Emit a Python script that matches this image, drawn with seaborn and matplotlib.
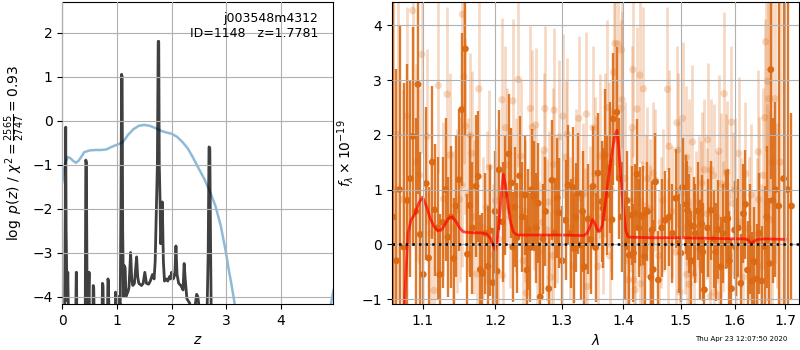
import numpy as np
import matplotlib
matplotlib.use("Agg")
import matplotlib.pyplot as plt
from matplotlib.ticker import FixedLocator, NullLocator, FixedFormatter
import seaborn as sns

# ---- p(z) panel ----
pz_z = [0.0, 0.04, 0.055, 0.062, 0.07, 0.08, 0.09, 0.10, 0.12, 0.24, 0.255, 0.26, 0.265, 0.28,
        0.40, 0.42, 0.43, 0.44, 0.455, 0.47, 0.48, 0.49, 0.50, 0.555, 0.565, 0.575, 0.59,
        0.72, 0.735, 0.745, 0.76, 0.82, 0.835, 0.845, 0.86, 0.96, 0.975, 0.985, 1.0, 1.02,
        1.06, 1.075, 1.085, 1.095, 1.105, 1.12, 1.135, 1.15, 1.165, 1.18, 1.20, 1.22, 1.25,
        1.27, 1.29, 1.32, 1.36, 1.38, 1.40, 1.45, 1.48, 1.51, 1.54, 1.58, 1.61, 1.65, 1.68,
        1.70, 1.74, 1.755, 1.765, 1.775, 1.79, 1.80, 1.81, 1.83, 1.85, 1.87, 1.90, 1.93,
        1.96, 1.98, 2.00, 2.03, 2.06, 2.08, 2.10, 2.13, 2.17, 2.21, 2.23, 2.25, 2.28, 2.33,
        2.37, 2.42, 2.46, 2.48, 2.51, 2.55, 2.64, 2.67, 2.685, 2.70, 2.715, 2.73, 2.76, 3.0, 5.0]
pz_logp = [-5.0, -5.0, -2.0, -0.15, -2.5, -3.45, -4.1, -3.45, -5.0, -5.0, -3.45, -3.45, -4.5, -5.0,
           -5.0, -4.2, -0.9, -0.95, -4.3, -3.45, -4.0, -3.45, -5.0, -5.0, -3.75, -3.8, -5.0,
           -5.0, -3.7, -3.75, -5.0, -5.0, -3.6, -3.65, -5.0, -5.0, -3.9, -3.95, -4.2, -4.0,
           -4.2, -1.5, 1.05, 1.0, -2.5, -4.0, -3.3, -3.35, -4.0, -3.95, -3.9, -3.8, -3.0,
           -3.6, -3.75, -3.7, -3.1, -3.55, -3.7, -3.75, -3.7, -3.45, -3.7, -3.72, -3.65, -3.5, -3.6,
           -3.2, -1.0, 1.8, 1.8, -1.0, -1.9, -2.8, -2.7, -1.85, -3.2, -3.65, -3.6, -3.65,
           -3.55, -3.6, -3.45, -3.6, -3.5, -2.85, -3.5, -3.7, -3.75, -3.85, -3.25, -3.6, -4.05, -4.15,
           -4.4, -4.3, -3.95, -4.0, -4.3, -5.0, -5.0, -3.0, -0.6, -0.62, -3.0, -5.0, -5.0, -5.0, -5.0]

chi_z = [0.0, 0.05, 0.1, 0.15, 0.2, 0.25, 0.3, 0.35, 0.4, 0.45, 0.5, 0.6, 0.7, 0.8, 0.9, 1.0,
         1.1, 1.15, 1.2, 1.3, 1.4, 1.5, 1.6, 1.7, 1.8, 1.9, 2.0, 2.1, 2.2, 2.3, 2.4, 2.5, 2.6,
         2.7, 2.8, 2.9, 3.0, 3.05, 3.1, 3.15, 3.2, 3.3, 3.6, 4.0, 4.4, 4.6, 4.8, 4.9, 4.96]
chi_val = [-1.40, -0.98, -0.83, -0.86, -0.92, -0.96, -0.91, -0.82, -0.72, -0.70, -0.68, -0.67,
           -0.67, -0.66, -0.60, -0.55, -0.50, -0.42, -0.33, -0.20, -0.12, -0.10, -0.12, -0.17,
           -0.23, -0.27, -0.30, -0.37, -0.49, -0.64, -0.86, -1.10, -1.33, -1.61, -1.93, -2.39,
           -3.03, -3.41, -3.75, -4.13, -4.5, -5.3, -6.0, -6.2, -6.0, -5.5, -4.8, -4.3, -3.86]

# ---- spectrum panel ----
dark_lam = [1.062, 1.066, 1.070, 1.0755, 1.080, 1.084, 1.087, 1.091, 1.094, 1.097, 1.101, 1.105,
            1.108, 1.113, 1.116, 1.120, 1.123, 1.127, 1.131, 1.134, 1.138, 1.142, 1.145, 1.149,
            1.153, 1.158, 1.161, 1.164, 1.168, 1.173, 1.176, 1.179, 1.182, 1.186, 1.190, 1.193,
            1.197, 1.200, 1.203, 1.206, 1.211, 1.215, 1.220, 1.224, 1.226, 1.229, 1.232, 1.236,
            1.240, 1.244, 1.247, 1.249, 1.252, 1.254, 1.258, 1.261, 1.264, 1.267, 1.271, 1.275,
            1.280, 1.285, 1.289, 1.293, 1.296, 1.301, 1.306, 1.310, 1.314, 1.318, 1.320, 1.322,
            1.325, 1.330, 1.333, 1.336, 1.342, 1.346, 1.350, 1.354, 1.358, 1.364, 1.366, 1.369,
            1.372, 1.377, 1.381, 1.383, 1.389, 1.393, 1.397, 1.402, 1.406, 1.410, 1.414, 1.417,
            1.420, 1.423, 1.426, 1.429, 1.433, 1.436, 1.441, 1.447, 1.449, 1.451, 1.455, 1.460,
            1.466, 1.472, 1.479, 1.485, 1.491, 1.496, 1.500, 1.503, 1.510, 1.512, 1.515, 1.519,
            1.523, 1.526, 1.531, 1.535, 1.538, 1.540, 1.543, 1.549, 1.555, 1.560, 1.564, 1.568,
            1.574, 1.578, 1.583, 1.587, 1.590, 1.594, 1.600, 1.602, 1.607, 1.612, 1.617, 1.621,
            1.625, 1.630, 1.634, 1.638, 1.643, 1.648, 1.653, 1.659, 1.663, 1.668, 1.671, 1.675,
            1.680, 1.687, 1.697, 1.705, 1.713]
dark_flux = [0.5, -0.3, 1.0, -0.05, 0.8, 1.2, 1.97, 0.6, 2.92, 0.18, -0.55, 1.11,
             -0.25, 1.5, 0.63, 0.3, -0.55, 0.4, 1.0, 0.13, 0.5, -0.26, 0.7, 1.18,
             2.46, 3.57, -0.18, 0.71, 0.3, 1.06, 1.24, -0.46, -0.53, 0.2, -0.4, 0.25,
             -0.7, 0.6, -0.49, 1.36, 0.41, 0.9, 1.65, 1.12, -0.05, 0.68, 0.12, 1.25,
             0.5, 0.9, -0.47, 0.27, -0.06, 1.0, 0.88, 0.3, 0.75, -0.96, 0.1, 0.6,
             -0.81, 1.17, 0.21, 0.85, 0.57, -0.3, 0.44, 1.08, 0.2, 1.04, -0.08, 0.49,
             0.93, -0.01, 0.6, -0.41, 0.46, 0.09, 1.06, -0.06, 1.3, 0.78, 0.66, 1.63,
             0.9, 1.4, 0.45, 2.29, 2.41, 1.2, 0.5, 0.0, 0.8, -0.2, 0.53, -0.16,
             0.56, 1.28, 0.3, 0.51, 0.53, -0.22, 0.6, -0.6, 0.26, -0.46, 1.14, -0.65,
             0.3, 0.44, 0.5, 0.2, 0.84, 0.02, -0.16, 1.04, 0.73, 0.62, 0.38, -0.3,
             0.33, 0.2, 0.61, -0.09, 0.37, -0.14, -0.83, 0.3, 0.62, 0.1, -0.14, 0.27,
             -0.41, 0.2, 0.45, 0.47, -0.3, -0.81, 0.26, -0.05, 0.3, -0.71, 0.56, 0.73,
             -0.47, 0.1, -0.67, -0.32, -0.63, 0.2, -0.67, -0.04, 0.5, -0.35, 3.19, 0.8,
             1.0, 0.7, 1.2, 1.0, 0.7]
dark_err = [4.0, 3.5, 3.0, 3.0, 2.5, 1.8, 2.0, 1.7, 2.0, 1.5, 1.4, 1.4,
            1.3, 1.4, 1.2, 1.3, 1.1, 1.2, 1.3, 1.1, 1.3, 1.1, 1.3, 1.3,
            1.4, 1.6, 1.1, 1.3, 1.2, 1.3, 1.2, 1.0, 1.1, 1.1, 1.1, 1.2,
            1.0, 1.1, 1.0, 1.1, 1.1, 1.1, 1.1, 1.0, 1.0, 1.1, 1.0, 1.1,
            1.0, 1.1, 1.0, 1.1, 1.0, 1.1, 1.0, 1.0, 1.1, 1.0, 1.0, 1.0,
            1.0, 1.1, 1.0, 1.1, 1.0, 1.0, 1.1, 1.1, 1.0, 1.1, 1.0, 1.0,
            1.1, 1.0, 1.1, 1.0, 1.0, 1.0, 1.1, 1.0, 1.1, 1.1, 1.1, 1.2,
            1.1, 1.2, 1.1, 1.2, 1.2, 1.1, 1.0, 1.0, 0.9, 0.9, 0.9, 0.9,
            0.9, 1.0, 0.9, 0.9, 0.9, 0.9, 0.9, 0.9, 0.9, 0.9, 0.9, 0.9,
            0.9, 0.9, 0.9, 0.9, 0.9, 0.9, 0.9, 0.9, 0.9, 0.9, 0.9, 0.9,
            0.9, 0.9, 0.9, 0.9, 0.9, 0.9, 0.9, 0.9, 0.9, 0.9, 0.9, 0.9,
            0.9, 0.9, 0.9, 0.9, 0.9, 0.9, 0.9, 0.9, 0.9, 0.9, 0.9, 1.0,
            0.9, 1.0, 0.9, 1.0, 1.0, 1.1, 1.0, 1.1, 1.3, 1.2, 2.0, 1.5,
            1.6, 4.0, 4.0, 4.0, 1.7]

light_lam = [1.062, 1.068, 1.075, 1.080, 1.087, 1.092, 1.096, 1.099, 1.106, 1.111, 1.115, 1.121,
             1.128, 1.133, 1.137, 1.141, 1.146, 1.150, 1.153, 1.154, 1.156, 1.158, 1.162, 1.165,
             1.167, 1.170, 1.174, 1.177, 1.183, 1.188, 1.192, 1.197, 1.201, 1.205, 1.210, 1.211,
             1.215, 1.218, 1.222, 1.226, 1.230, 1.234, 1.238, 1.241, 1.244, 1.246, 1.252, 1.255,
             1.257, 1.260, 1.262, 1.265, 1.270, 1.273, 1.274, 1.277, 1.280, 1.283, 1.286, 1.287,
             1.288, 1.292, 1.296, 1.302, 1.306, 1.309, 1.313, 1.318, 1.322, 1.327, 1.333, 1.337,
             1.339, 1.340, 1.345, 1.350, 1.353, 1.354, 1.358, 1.361, 1.366, 1.370, 1.373, 1.376,
             1.377, 1.380, 1.384, 1.386, 1.391, 1.396, 1.397, 1.398, 1.402, 1.405, 1.408, 1.412,
             1.415, 1.416, 1.418, 1.420, 1.423, 1.428, 1.429, 1.431, 1.432, 1.434, 1.438, 1.441,
             1.445, 1.446, 1.451, 1.455, 1.461, 1.465, 1.468, 1.476, 1.477, 1.479, 1.484, 1.491,
             1.493, 1.494, 1.496, 1.498, 1.503, 1.507, 1.510, 1.511, 1.514, 1.515, 1.516, 1.521,
             1.523, 1.528, 1.533, 1.536, 1.538, 1.543, 1.548, 1.549, 1.553, 1.554, 1.555, 1.560,
             1.561, 1.566, 1.570, 1.571, 1.575, 1.577, 1.580, 1.583, 1.585, 1.590, 1.594, 1.596,
             1.600, 1.603, 1.608, 1.612, 1.617, 1.621, 1.627, 1.632, 1.637, 1.643, 1.646, 1.647,
             1.652, 1.656, 1.659, 1.661, 1.664, 1.665, 1.667, 1.669, 1.674, 1.679, 1.683, 1.690]
light_flux = [1.0, 2.0, 0.82, 2.34, 4.27, 1.5, 1.26, 3.47, 1.97, 0.20, -0.84, 2.9,
              0.83, 2.74, 1.63, 0.3, 0.61, 0.82, 1.08, 4.2, 3.06, 2.16, 0.9, 1.99,
              1.66, 0.5, -0.54, 2.84, 0.3, 0.67, 1.41, -0.2, 0.8, 0.1, 2.64, -0.57,
              2.13, 1.45, 0.5, 2.62, 0.9, 3.01, 1.61, -0.3, 0.61, -0.89, 2.48, 2.14,
              0.83, 2.18, -0.03, -0.14, 0.4, 1.72, 2.48, 0.26, 0.77, -0.6, -0.21, 1.46,
              2.45, 0.6, 1.96, 2.34, 1.59, 2.01, 0.3, -0.4, 1.17, 2.30, 0.91, 0.09,
              2.38, -0.77, 0.5, 2.13, 1.29, 0.94, -0.4, 1.61, 0.5, 1.63, 2.50, 1.46,
              -0.21, 1.0, 3.14, 3.67, 3.66, 2.49, 3.55, 2.64, 1.2, -0.3, -0.65, 0.8,
              2.13, 3.19, -0.65, -0.83, 2.47, 3.09, -0.72, 0.23, -0.35, 2.84, 0.7, 1.20,
              0.15, 0.63, 1.30, 1.17, -0.21, 0.4, 0.80, 2.83, 0.02, 1.79, 0.6, -0.14,
              2.22, 1.72, 0.96, -0.87, 2.30, 0.3, 1.59, -0.55, 1.36, -0.73, -0.35, 1.87,
              -0.55, 0.51, 0.77, 0.68, 1.12, 1.36, 0.56, 1.91, 0.2, -0.95, 1.36, 1.26,
              -0.87, 0.5, 1.70, -0.93, 1.10, 0.33, 2.75, 1.08, 1.32, -0.2, 2.23, 0.75,
              1.0, -0.58, 1.66, 0.4, -0.6, 1.29, 0.29, 0.9, -0.3, 0.17, 1.69, 0.82,
              -0.4, 1.26, 2.31, 3.70, 0.77, 2.98, 2.66, 0.45, 1.5, 2.66, 0.71, 1.5]
light_err = [4.0, 3.0, 2.0, 2.0, 2.2, 1.8, 1.6, 1.8, 1.6, 1.4, 1.4, 1.6,
             1.4, 1.6, 1.5, 1.4, 1.5, 1.5, 1.5, 1.8, 1.6, 1.6, 1.4, 1.5,
             1.5, 1.4, 1.4, 1.6, 1.3, 1.4, 1.4, 1.3, 1.3, 1.3, 1.5, 1.3,
             1.5, 1.4, 1.3, 1.5, 1.4, 1.6, 1.4, 1.3, 1.3, 1.3, 1.5, 1.4,
             1.3, 1.4, 1.3, 1.3, 1.3, 1.4, 1.5, 1.3, 1.3, 1.2, 1.3, 1.4,
             1.5, 1.3, 1.4, 1.5, 1.4, 1.4, 1.3, 1.2, 1.3, 1.5, 1.3, 1.3,
             1.5, 1.2, 1.3, 1.5, 1.4, 1.4, 1.3, 1.5, 1.4, 1.5, 1.6, 1.5,
             1.4, 1.5, 1.7, 1.8, 1.8, 1.6, 1.8, 1.6, 1.4, 1.3, 1.3, 1.3,
             1.5, 1.6, 1.3, 1.2, 1.5, 1.6, 1.2, 1.3, 1.2, 1.5, 1.3, 1.3,
             1.3, 1.3, 1.3, 1.3, 1.2, 1.2, 1.3, 1.5, 1.2, 1.4, 1.2, 1.2,
             1.4, 1.4, 1.3, 1.2, 1.4, 1.2, 1.3, 1.2, 1.3, 1.2, 1.2, 1.4,
             1.2, 1.2, 1.2, 1.2, 1.3, 1.3, 1.2, 1.4, 1.2, 1.2, 1.3, 1.3,
             1.2, 1.2, 1.4, 1.2, 1.3, 1.2, 1.5, 1.3, 1.3, 1.2, 1.4, 1.3,
             1.3, 1.2, 1.4, 1.2, 1.2, 1.3, 1.3, 1.3, 1.3, 1.4, 1.5, 1.5,
             1.5, 1.6, 1.8, 2.0, 1.8, 2.0, 2.0, 2.0, 3.0, 3.0, 1.5, 3.0]

model_lam = [1.075, 1.078, 1.081, 1.085, 1.090, 1.095, 1.100, 1.105, 1.110, 1.115, 1.120, 1.125,
             1.130, 1.135, 1.140, 1.145, 1.150, 1.155, 1.160, 1.170, 1.180, 1.188, 1.193, 1.197,
             1.200, 1.203, 1.206, 1.209, 1.212, 1.215, 1.219, 1.223, 1.227, 1.231, 1.235, 1.25,
             1.30, 1.335, 1.340, 1.345, 1.349, 1.353, 1.357, 1.361, 1.365, 1.370, 1.375, 1.380,
             1.385, 1.389, 1.392, 1.396, 1.400, 1.404, 1.408, 1.412, 1.45, 1.50, 1.55, 1.60,
             1.620, 1.626, 1.630, 1.634, 1.638, 1.645, 1.66, 1.70]
model_flux = [-1.5, -0.6, 0.2, 0.45, 0.55, 0.75, 0.86, 0.7, 0.48, 0.33, 0.25, 0.26,
              0.36, 0.48, 0.50, 0.42, 0.30, 0.23, 0.22, 0.21, 0.21, 0.19, 0.12, 0.0,
              -0.1, 0.05, 0.4, 0.9, 1.28, 1.1, 0.7, 0.38, 0.22, 0.18, 0.17, 0.17,
              0.17, 0.16, 0.20, 0.32, 0.45, 0.38, 0.26, 0.24, 0.35, 0.75, 1.2, 1.6,
              1.95, 2.08, 1.8, 1.2, 0.65, 0.25, 0.14, 0.13, 0.12, 0.12, 0.11, 0.10,
              0.10, 0.08, 0.04, 0.02, 0.06, 0.09, 0.10, 0.09]

dark_color = "#dc6a14"

fig = plt.figure(figsize=(8, 3.5), dpi=100)
ax1 = fig.add_axes([0.0779, 0.1314, 0.3387, 0.8637])
ax2 = fig.add_axes([0.4896, 0.1314, 0.5094, 0.8637])

# left: p(z)
sns.lineplot(x=chi_z, y=chi_val, ax=ax1, color="tab:blue", alpha=0.5, lw=1.8, estimator=None)
sns.lineplot(x=pz_z, y=pz_logp, ax=ax1, color="k", alpha=0.75, lw=2, estimator=None)
ax1.set_xlim(0, 4.96)
ax1.set_ylim(-4.17, 2.70)
ax1.set_xticks([0, 1, 2, 3, 4])
ax1.set_yticks([-4, -3, -2, -1, 0, 1, 2])
ax1.set_xlabel("$z$")
ax1.set_ylabel(r"$\log\ p(z)$ / $\chi^2=\frac{2565}{2747}=0.93$")
ax1.grid(True)
ax1.set_axisbelow(False)
ax1.text(0.945, 0.965, "j003548m4312\nID=1148   z=1.7781", transform=ax1.transAxes,
         ha="right", va="top", fontsize=9)

# right: spectrum
ax2.set_xscale("log")
ax2.errorbar(light_lam, light_flux, yerr=light_err, fmt="none", ecolor=dark_color,
             elinewidth=2, alpha=0.25)
sns.scatterplot(x=light_lam, y=light_flux, ax=ax2, color=dark_color, alpha=0.25, s=28,
                edgecolor="none")
ax2.errorbar(dark_lam, dark_flux, yerr=dark_err, fmt="none", ecolor=dark_color,
             elinewidth=1.7, alpha=0.9)
sns.scatterplot(x=dark_lam, y=dark_flux, ax=ax2, color=dark_color, s=24, edgecolor="none")
sns.lineplot(x=model_lam, y=model_flux, ax=ax2, color="red", alpha=0.7, lw=2, estimator=None)
ax2.axhline(0, color="k", ls=":", lw=1.8, zorder=5)
ax2.set_xlim(1.060, 1.729)
ax2.set_ylim(-1.09, 4.43)
ax2.xaxis.set_major_locator(FixedLocator([1.1, 1.2, 1.3, 1.4, 1.5, 1.6, 1.7]))
ax2.xaxis.set_major_formatter(FixedFormatter(["1.1", "1.2", "1.3", "1.4", "1.5", "1.6", "1.7"]))
ax2.xaxis.set_minor_locator(NullLocator())
ax2.set_yticks([-1, 0, 1, 2, 3, 4])
ax2.set_xlabel(r"$\lambda$")
ax2.set_ylabel(r"$f_\lambda\times10^{-19}$")
ax2.grid(True)
ax2.set_axisbelow(False)

fig.text(0.984, 0.031, "Thu Apr 23 12:07:50 2020", ha="right", va="center", fontsize=5)

fig.savefig("out.png", dpi=100)
